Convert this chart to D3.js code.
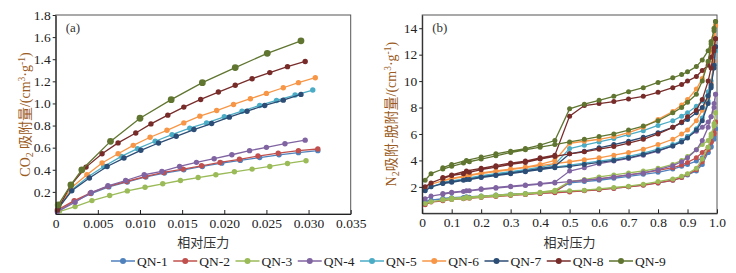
<!DOCTYPE html>
<html><head><meta charset="utf-8">
<script src="https://cdn.jsdelivr.net/npm/d3@7"></script>
<style>
html,body{margin:0;padding:0;background:#fff;}
svg{display:block;}
</style></head>
<body>
<svg id="chart" width="736" height="273"></svg>
<script>
// ---------- DATA ----------
const seriesNames = ["QN-1","QN-2","QN-3","QN-4","QN-5","QN-6","QN-7","QN-8","QN-9"];
const seriesColors = ["#4f81bd","#c0504d","#9bbb59","#8064a2","#4bacc6","#f79646","#2c4d75","#772c2a","#5f7530"];

// (a) CO2 adsorption: [relative pressure, amount]
const co2QN1 = [[0.0004,0.03],[0.0022,0.115],[0.0042,0.185],[0.0063,0.245],[0.0085,0.29],[0.0107,0.335],[0.0129,0.37],[0.0152,0.40],[0.0174,0.43],[0.0197,0.46],[0.0219,0.485],[0.0242,0.51],[0.0265,0.535],[0.0288,0.555],[0.0311,0.573]];
const co2QN2 = [[0.0003,0.04],[0.0022,0.121],[0.0041,0.188],[0.0062,0.250],[0.0084,0.294],[0.0106,0.339],[0.0128,0.376],[0.0151,0.406],[0.0173,0.436],[0.0195,0.466],[0.0218,0.495],[0.0240,0.524],[0.0264,0.550],[0.0288,0.573],[0.0311,0.588]];
const co2QN3 = [[0.0004,0.021],[0.0023,0.067],[0.0043,0.121],[0.0064,0.167],[0.0085,0.209],[0.0106,0.242],[0.0127,0.273],[0.0148,0.303],[0.0169,0.33],[0.0190,0.355],[0.0212,0.382],[0.0233,0.406],[0.0254,0.43],[0.0275,0.457],[0.0297,0.482]];
const co2QN4 = [[0.0002,0.021],[0.0023,0.106],[0.0042,0.194],[0.0062,0.255],[0.0083,0.303],[0.0105,0.355],[0.0126,0.385],[0.0147,0.430],[0.0167,0.467],[0.0188,0.50],[0.0209,0.536],[0.0230,0.573],[0.0250,0.603],[0.0272,0.636],[0.0296,0.668]];
const co2QN5 = [[0.0003,0.05],[0.0019,0.218],[0.0039,0.339],[0.0057,0.430],[0.0078,0.521],[0.0097,0.591],[0.0118,0.658],[0.0138,0.718],[0.0159,0.776],[0.0179,0.824],[0.0200,0.879],[0.0221,0.930],[0.0242,0.982],[0.0262,1.027],[0.0284,1.076],[0.0305,1.121]];
const co2QN6 = [[0.0003,0.05],[0.0018,0.233],[0.0037,0.355],[0.0055,0.461],[0.0074,0.545],[0.0092,0.621],[0.0112,0.694],[0.0132,0.757],[0.0152,0.824],[0.0171,0.885],[0.0191,0.936],[0.0211,0.991],[0.0231,1.043],[0.0250,1.091],[0.0270,1.142],[0.0288,1.188],[0.0308,1.233]];
const co2QN7 = [[0.0003,0.052],[0.0019,0.21],[0.0040,0.325],[0.0061,0.43],[0.0081,0.506],[0.0101,0.576],[0.0122,0.642],[0.0143,0.703],[0.0164,0.764],[0.0185,0.818],[0.0206,0.876],[0.0227,0.93],[0.0248,0.982],[0.0270,1.03],[0.0291,1.082]];
const co2QN8 = [[0.0002,0.036],[0.0018,0.262],[0.0036,0.424],[0.0055,0.545],[0.0074,0.643],[0.0095,0.733],[0.0113,0.815],[0.0133,0.894],[0.0152,0.967],[0.0172,1.036],[0.0193,1.103],[0.0213,1.164],[0.0233,1.224],[0.0254,1.279],[0.0275,1.333],[0.0296,1.38]];
const co2QN9 = [[0.0003,0.082],[0.0018,0.264],[0.0031,0.40],[0.0065,0.657],[0.0100,0.866],[0.0137,1.034],[0.0174,1.188],[0.0213,1.324],[0.0251,1.453],[0.0291,1.566]];

// (b) N2 adsorption / desorption
const pAds = [0.01,0.03,0.07,0.1,0.14,0.16,0.2,0.25,0.3,0.35,0.4,0.45,0.5,0.55,0.6,0.65,0.7,0.75,0.8,0.85,0.88,0.9,0.93,0.95,0.97,0.98,0.99,0.995];
const pDes = [0.995,0.99,0.98,0.97,0.95,0.93,0.9,0.88,0.85,0.8,0.75,0.7,0.65,0.6,0.55,0.5,0.45,0.4,0.35,0.3,0.25,0.2,0.15,0.1,0.07];

const n2AdsQN1 = [0.9,1.0,1.1,1.15,1.2,1.22,1.28,1.33,1.4,1.45,1.52,1.6,1.65,1.72,1.8,1.9,2.0,2.15,2.3,2.5,2.7,2.9,3.2,3.7,4.6,5.1,5.8,6.4];
const n2DesQN1 = [6.4,5.6,5.0,4.6,4.2,3.95,3.7,3.55,3.35,3.1,2.95,2.8,2.65,2.5,2.4,2.3,1.65,1.55,1.5,1.45,1.38,1.3,1.25,1.18,1.12];
const n2AdsQN2 = [0.65,0.85,0.95,1.05,1.1,1.13,1.2,1.27,1.35,1.42,1.5,1.55,1.62,1.7,1.78,1.88,2.0,2.12,2.3,2.5,2.7,2.95,3.3,3.9,4.8,5.4,6.1,6.9];
const n2DesQN2 = [6.9,6.0,5.4,5.0,4.6,4.2,3.85,3.65,3.45,3.25,3.05,2.9,2.75,2.6,2.5,2.4,1.6,1.52,1.45,1.4,1.33,1.25,1.18,1.1,1.0];
const n2AdsQN3 = [0.75,0.88,1.0,1.05,1.12,1.15,1.22,1.3,1.38,1.45,1.55,1.65,1.7,1.75,1.85,1.95,2.05,2.2,2.4,2.6,2.8,3.0,3.4,4.1,5.0,5.8,6.8,7.6];
const n2DesQN3 = [7.6,6.6,6.0,5.5,5.2,4.8,4.3,4.0,3.7,3.4,3.2,3.05,2.9,2.75,2.55,2.4,1.75,1.6,1.5,1.45,1.38,1.3,1.22,1.15,1.05];
const n2AdsQN4 = [1.1,1.3,1.45,1.55,1.65,1.7,1.8,1.9,2.0,2.1,2.2,2.3,2.4,2.5,2.6,2.75,2.9,3.05,3.3,3.6,3.9,4.2,4.8,5.5,6.5,7.3,8.3,9.0];
const n2DesQN4 = [9.0,8.0,7.3,6.9,6.5,6.2,5.8,5.5,5.1,4.7,4.4,4.15,3.95,3.75,3.45,3.2,2.35,2.25,2.15,2.05,1.95,1.85,1.7,1.6,1.5];
const n2AdsQN5 = [1.75,2.0,2.3,2.4,2.55,2.6,2.75,2.9,3.05,3.2,3.35,3.5,3.65,3.8,3.95,4.1,4.3,4.55,4.85,5.2,5.5,5.8,6.4,7.2,8.5,9.6,11.3,12.3];
const n2DesQN5 = [12.3,11.2,10.0,9.2,8.5,8.1,7.6,7.35,7.0,6.65,6.25,5.95,5.65,5.4,5.15,4.9,3.7,3.5,3.3,3.15,3.0,2.85,2.65,2.45,2.35];
const n2AdsQN6 = [1.95,2.2,2.45,2.6,2.75,2.85,3.0,3.15,3.3,3.45,3.6,3.75,3.9,4.05,4.2,4.4,4.6,4.85,5.2,5.6,6.0,6.3,7.0,7.8,8.8,9.8,11.5,14.2];
const n2DesQN6 = [14.2,13.3,12.3,11.4,10.2,9.4,8.6,8.2,7.7,7.1,6.5,6.1,5.8,5.6,5.45,5.3,4.0,3.7,3.5,3.35,3.2,3.05,2.85,2.65,2.5];
const n2AdsQN7 = [1.7,2.0,2.25,2.35,2.5,2.55,2.7,2.85,3.0,3.15,3.3,3.45,3.55,3.7,3.85,4.0,4.2,4.45,4.75,5.1,5.4,5.7,6.3,7.0,8.3,9.5,11.2,12.6];
const n2DesQN7 = [12.6,11.0,9.7,8.9,8.0,7.6,7.1,6.85,6.5,6.1,5.75,5.45,5.2,4.95,4.7,4.5,3.55,3.4,3.2,3.05,2.9,2.75,2.55,2.4,2.3];
const n2AdsQN8 = [2.0,2.3,2.65,2.85,3.0,3.1,3.3,3.5,3.7,3.85,4.1,4.3,4.5,4.65,4.85,5.05,5.3,5.6,6.0,6.5,6.9,7.3,7.8,8.6,10.0,11.0,12.3,13.2];
const n2DesQN8 = [13.2,12.5,11.8,11.2,10.8,10.35,10.0,9.75,9.5,9.15,8.85,8.65,8.45,8.3,8.15,7.35,4.4,4.2,3.95,3.8,3.6,3.4,3.2,2.9,2.7];
const n2AdsQN9 = [2.5,3.0,3.35,3.55,3.8,3.9,4.1,4.35,4.6,4.8,5.0,5.2,5.4,5.6,5.8,6.0,6.3,6.6,7.0,7.6,8.0,8.4,9.0,10.0,11.5,12.8,14.0,14.5];
const n2DesQN9 = [14.5,13.8,13.0,12.3,11.6,11.1,10.7,10.5,10.25,9.9,9.5,9.2,8.85,8.55,8.25,7.9,5.5,5.15,4.9,4.7,4.5,4.25,4.0,3.7,3.45];

const co2XTicks = [0,0.005,0.010,0.015,0.020,0.025,0.030,0.035];
const co2YTicks = [0.2,0.4,0.6,0.8,1.0,1.2,1.4,1.6,1.8];
const n2XTicks = [0,0.1,0.2,0.3,0.4,0.5,0.6,0.7,0.8,0.9,1.0];
const n2YTicks = [2,4,6,8,10,12,14];

// ---------- BUILD ----------
const co2Series = [co2QN1,co2QN2,co2QN3,co2QN4,co2QN5,co2QN6,co2QN7,co2QN8,co2QN9];
const adsAll = [n2AdsQN1,n2AdsQN2,n2AdsQN3,n2AdsQN4,n2AdsQN5,n2AdsQN6,n2AdsQN7,n2AdsQN8,n2AdsQN9];
const desAll = [n2DesQN1,n2DesQN2,n2DesQN3,n2DesQN4,n2DesQN5,n2DesQN6,n2DesQN7,n2DesQN8,n2DesQN9];
const n2Series = adsAll.map((a,i)=> a.map((v,j)=>[pAds[j],v]).concat(desAll[i].map((v,j)=>[pDes[j],v])));

const svg = d3.select("#chart");
const serif = "'Liberation Serif','Times New Roman',serif";
const cjk = "'Noto Sans CJK SC','Noto Sans',sans-serif";
const titleColor = "#9a5a22";

function panel(cfg){
  const x = d3.scaleLinear().domain(cfg.xDomain).range(cfg.xRange);
  const y = d3.scaleLinear().domain(cfg.yDomain).range(cfg.yRange);
  const g = svg.append("g");
  g.append("rect").attr("x",cfg.xRange[0]).attr("y",cfg.yRange[1])
    .attr("width",cfg.xRange[1]-cfg.xRange[0]).attr("height",cfg.yRange[0]-cfg.yRange[1])
    .attr("fill","none").attr("stroke","#555").attr("stroke-width",1);
  const line = d3.line().x(d=>x(d[0])).y(d=>y(d[1]));
  cfg.series.forEach((s,i)=>{
    const sg = g.append("g");
    sg.append("path").attr("d",line(s)).attr("fill","none")
      .attr("stroke",seriesColors[i]).attr("stroke-width",1.3);
    sg.selectAll("circle").data(s).join("circle")
      .attr("cx",d=>x(d[0])).attr("cy",d=>y(d[1]))
      .attr("r", cfg.r(i)).attr("fill",seriesColors[i]);
  });
  const xa = d3.axisBottom(x).tickValues(cfg.xTicks).tickSize(-4).tickSizeOuter(0).tickPadding(4).tickFormat(cfg.xFmt);
  const ya = d3.axisLeft(y).tickValues(cfg.yTicks).tickSize(3).tickSizeOuter(0).tickPadding(2).tickFormat(cfg.yFmt);
  const gx = g.append("g").attr("transform",`translate(0,${cfg.yRange[0]})`).call(xa);
  const gy = g.append("g").attr("transform",`translate(${cfg.xRange[0]},0)`).call(ya);
  [gx,gy].forEach(a=>{
    a.select(".domain").attr("stroke","#222");
    a.selectAll(".tick line").attr("stroke","#222");
    a.selectAll(".tick text").attr("font-family",serif).attr("font-size",13.5).attr("fill","#222");
  });
  g.append("text").attr("x",cfg.xRange[0]+10).attr("y",cfg.yRange[1]+17)
    .attr("font-family",serif).attr("font-size",13).attr("fill","#333").text(cfg.tag);
  g.append("text").attr("x",(cfg.xRange[0]+cfg.xRange[1])/2).attr("y",247)
    .attr("text-anchor","middle").attr("font-family",cjk).attr("font-size",13).attr("fill","#333").text("相对压力");
  const yt = g.append("text").attr("transform",`translate(${cfg.yTitleX},${(cfg.yRange[0]+cfg.yRange[1])/2}) rotate(-90)`)
    .attr("text-anchor","middle").attr("font-size",14).attr("fill",titleColor).attr("font-family",serif);
  cfg.yTitle.forEach(p=>{
    const t = yt.append("tspan").text(p.t);
    if(p.cjk) t.attr("font-family",cjk).attr("font-size",14);
    if(p.sub) t.attr("font-size",10).attr("dy",3);
    if(p.sup) t.attr("font-size",9.5).attr("dy",-5);
    if(p.back) t.attr("dy",p.back);
  });
}

panel({
  xDomain:[0,0.035], xRange:[55.7,350.7], yDomain:[0,1.8], yRange:[214,15],
  series:co2Series, r:i=> i===8 ? 3.4 : 2.7,
  xTicks:co2XTicks, yTicks:co2YTicks,
  xFmt:d=> d===0 ? "0" : d3.format(".3f")(d), yFmt:d3.format(".1f"),
  tag:"(a)", yTitleX:30,
  yTitle:[{t:"CO"},{t:"2",sub:1},{t:" 吸附量",cjk:1,back:-3},{t:"/(cm"},{t:"3",sup:1},{t:"·g",back:5},{t:"-1",sup:1},{t:")",back:5}]
});
panel({
  xDomain:[0,1.0], xRange:[422.2,717], yDomain:[0,15], yRange:[213.3,15],
  series:n2Series, r:()=>2.5,
  xTicks:n2XTicks, yTicks:n2YTicks,
  xFmt:d=> d===0 ? "0" : d3.format(".1f")(d), yFmt:d3.format("d"),
  tag:"(b)", yTitleX:396,
  yTitle:[{t:"N"},{t:"2",sub:1},{t:"吸附-脱附量",cjk:1,back:-3},{t:"/(cm"},{t:"3",sup:1},{t:"·g",back:5},{t:"-1",sup:1},{t:")",back:5}]
});

// legend
const lx = d3.scalePoint().domain(seriesNames).range([123,621]);
const lg = svg.append("g").attr("transform","translate(0,261)");
seriesNames.forEach((n,i)=>{
  const cx = lx(n);
  lg.append("line").attr("x1",cx-12).attr("x2",cx+12).attr("y1",0).attr("y2",0)
    .attr("stroke",seriesColors[i]).attr("stroke-width",1.5);
  lg.append("circle").attr("cx",cx).attr("cy",0).attr("r",3).attr("fill",seriesColors[i]);
  lg.append("text").attr("x",cx+14).attr("y",4.5).attr("font-family",serif).attr("font-size",13.5)
    .attr("fill","#222").text(n);
});
</script>
</body></html>
